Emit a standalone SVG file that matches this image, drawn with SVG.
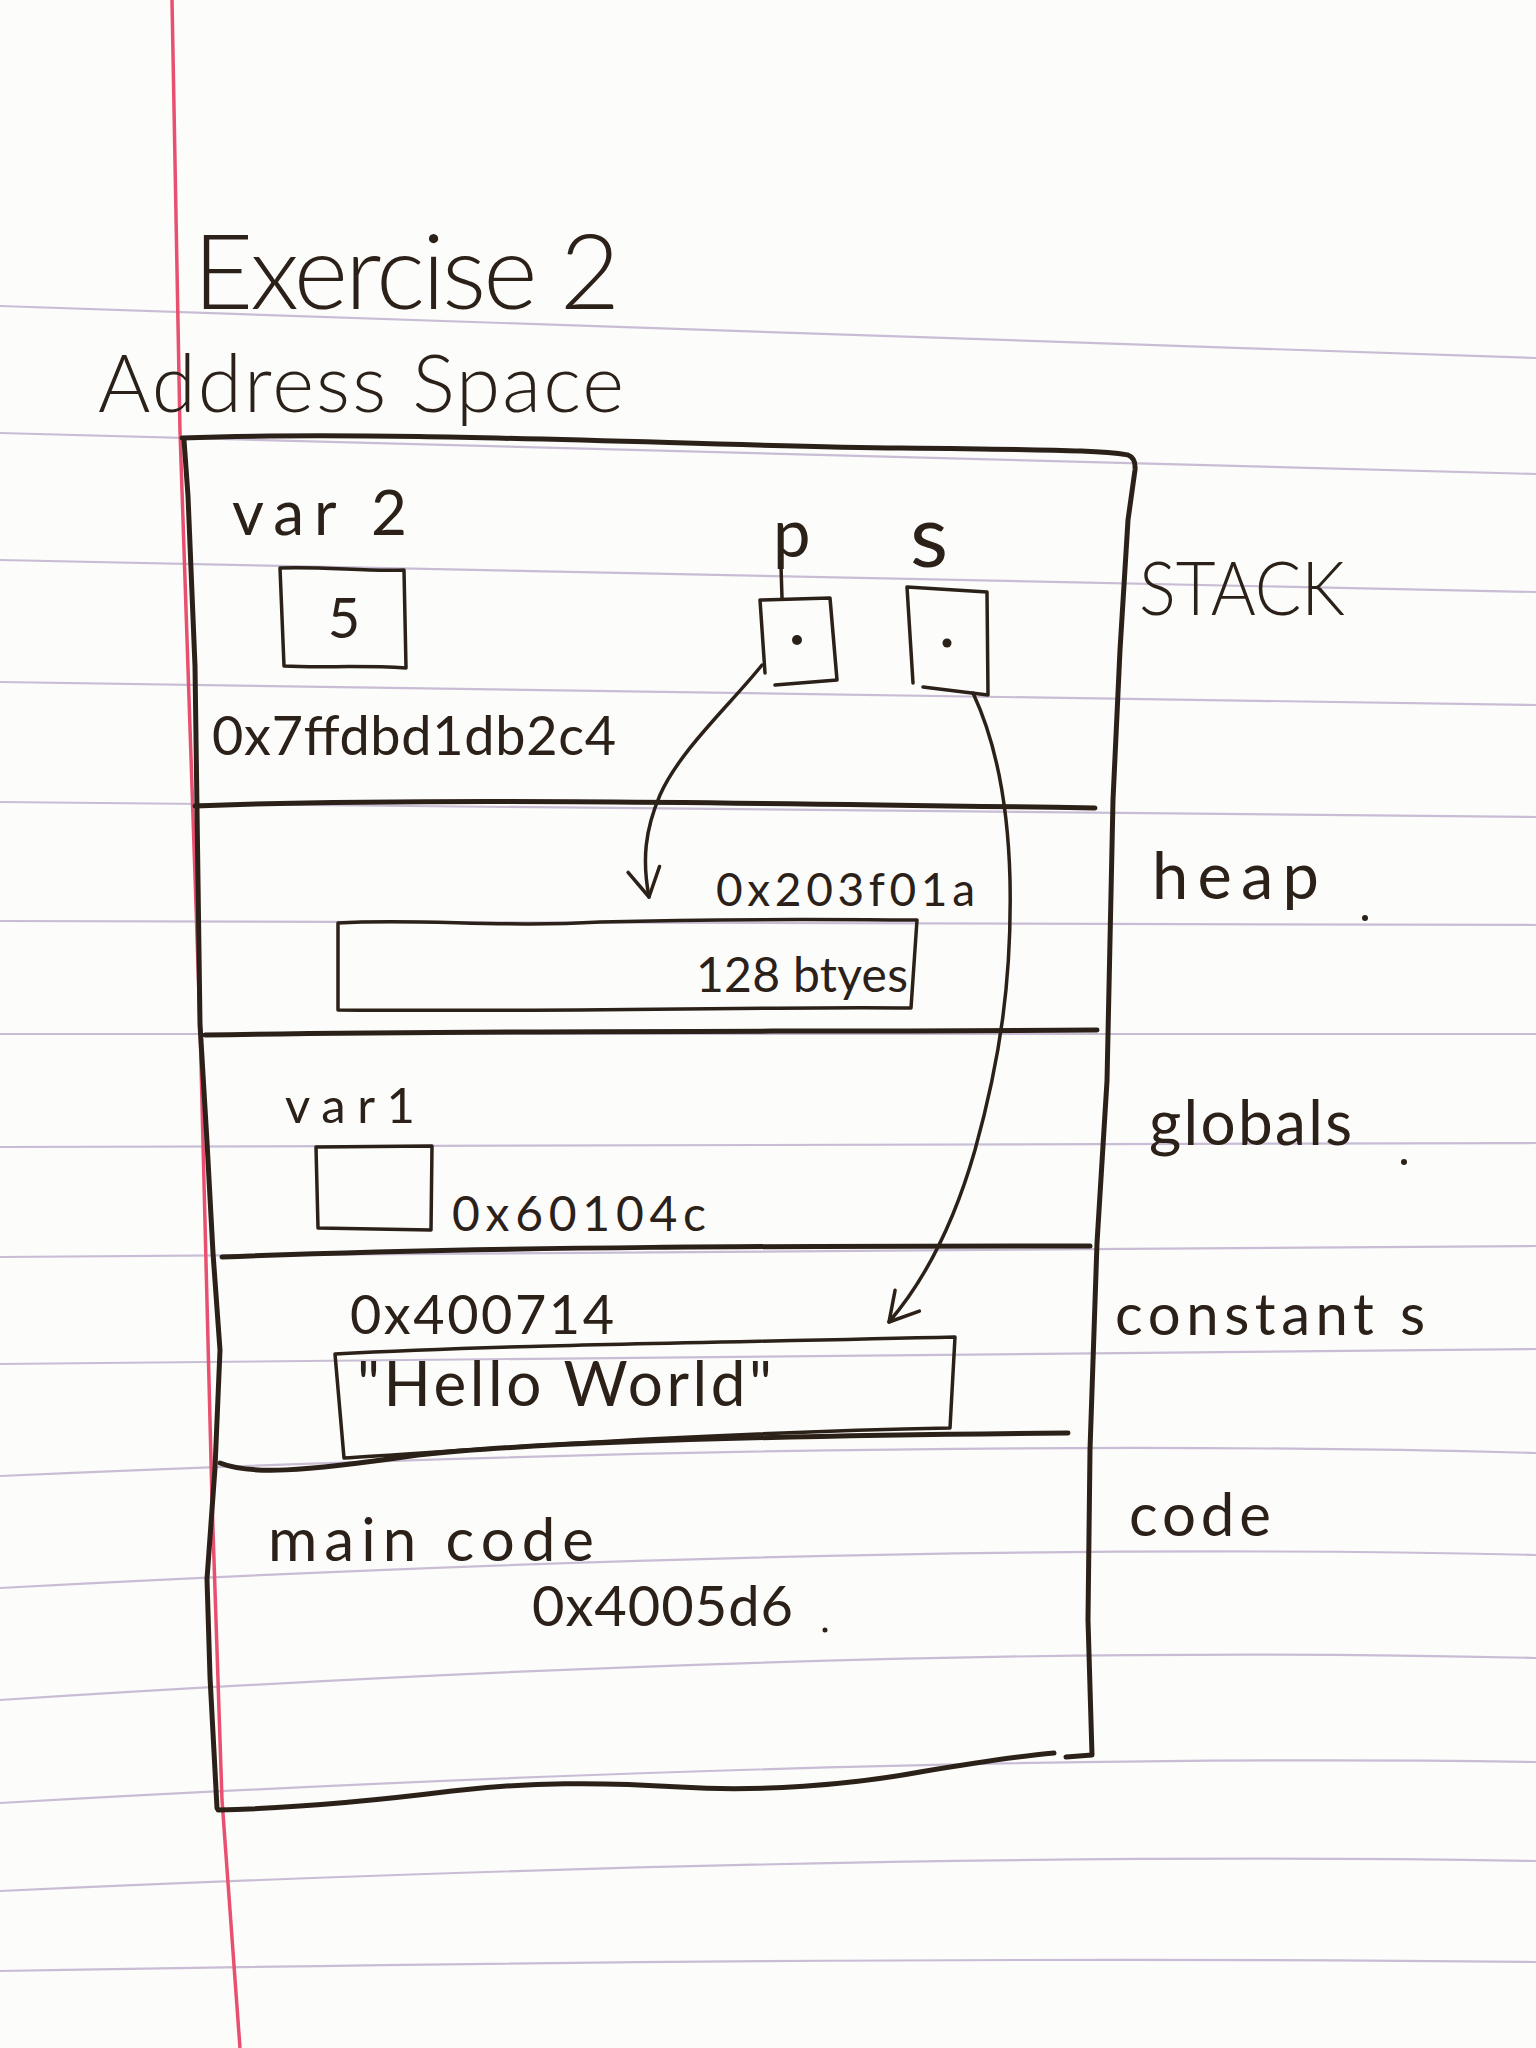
<svg xmlns="http://www.w3.org/2000/svg" width="1536" height="2048" viewBox="0 0 1536 2048">
  <defs>
    <style>
      .ink { fill: none; stroke: #2b2119; stroke-width: 5; stroke-linecap: round; stroke-linejoin: round; }
      .thin { fill: none; stroke: #2b2119; stroke-width: 3.5; stroke-linecap: round; stroke-linejoin: round; }
      .rule { fill: none; stroke: #c8bdd4; stroke-width: 2.2; }
      .margin { fill: none; stroke: #e9506f; stroke-width: 3.5; }
      text { font-family: Lato, "Liberation Sans", "DejaVu Sans", sans-serif; fill: #2b2119; }
      .light { font-weight: 300; }
    </style>
    <marker id="vhead" viewBox="-34 -20 40 40" markerWidth="40" markerHeight="40" refX="0" refY="0" orient="auto" markerUnits="userSpaceOnUse">
      <path d="M-28,-16 L0,0 L-28,16" fill="none" stroke="#2b2119" stroke-width="3.5" stroke-linecap="round" stroke-linejoin="round"/>
    </marker>
  </defs>

  <rect x="0" y="0" width="1536" height="2048" fill="#fcfcfb"/>

  <!-- notebook paper -->
  <g id="paper">
    <path class="rule" d="M0,306 L1536,358"/>
    <path class="rule" d="M0,433 L1536,474"/>
    <path class="rule" d="M0,560 L1536,592"/>
    <path class="rule" d="M0,682 L1536,705"/>
    <path class="rule" d="M0,802 L1536,817"/>
    <path class="rule" d="M0,921 L1536,925"/>
    <path class="rule" d="M0,1034 L1536,1034"/>
    <path class="rule" d="M0,1147 L1536,1143"/>
    <path class="rule" d="M0,1257 L1536,1246"/>
    <path class="rule" d="M0,1364 L1536,1349"/>
    <path class="rule" d="M0,1476 Q900,1436 1536,1453"/>
    <path class="rule" d="M0,1588 Q900,1540 1536,1555"/>
    <path class="rule" d="M0,1700 Q900,1642 1536,1658"/>
    <path class="rule" d="M0,1803 Q900,1752 1536,1762"/>
    <path class="rule" d="M0,1891 Q900,1850 1536,1861"/>
    <path class="rule" d="M0,1971 Q900,1955 1536,1962"/>
    <path class="margin" d="M172,0 L180,431 L200,1024 L212,1500 L222,1800 L240,2048"/>
  </g>

  <!-- titles -->
  <g id="title">
    <text class="light" x="193" y="309" font-size="104" textLength="427">Exercise 2</text>
    <text class="light" x="98" y="412" font-size="80" textLength="526">Address Space</text>
  </g>

  <!-- address space outline -->
  <g id="address-space">
    <path class="ink" d="M182,438 C400,430 700,446 900,448 S1110,452 1128,455 Q1136,458 1135,470 L1128,520 L1120,650 L1113,800 L1107,1081 L1097,1243 L1090,1450 L1088,1620 L1092,1755 L1066,1757"/>
    <path class="ink" d="M184,440 L188,496 L195,666 L200,1024 L207,1142 L213,1253 L220,1350 L215,1468 L207,1579 L210,1677 L217,1808"/>
    <path class="ink" d="M218,1810 C300,1808 380,1800 452,1791 C530,1782 600,1782 680,1787 C760,1792 850,1785 920,1772 C980,1762 1020,1756 1054,1753"/>
    <path class="ink" d="M195,806 C400,798 700,802 1095,808"/>
    <path class="ink" d="M205,1035 C500,1030 800,1032 1097,1030"/>
    <path class="ink" d="M222,1257 C500,1246 800,1246 1090,1246"/>
    <path class="ink" d="M220,1463 C250,1475 300,1472 418,1455 C520,1444 700,1436 1068,1433"/>
  </g>

  <!-- segment labels -->
  <g id="labels">
    <text class="light" x="1139" y="615" font-size="74" textLength="206" lengthAdjust="spacingAndGlyphs">STACK</text>
    <text x="1152" y="899" font-size="65" textLength="167">heap</text>
    <text x="1149" y="1145" font-size="62" textLength="203">globals</text>
    <text x="1115" y="1335" font-size="58" textLength="310">constant s</text>
    <text x="1129" y="1536" font-size="60" textLength="142">code</text>
  </g>

  <!-- stack contents -->
  <g id="var2">
    <text x="232" y="535" font-size="62" textLength="175">var 2</text>
    <path class="thin" d="M280,568 C320,566 370,572 404,570 L406,668 C360,665 320,668 284,666 Z"/>
    <text x="344" y="638" font-size="56" text-anchor="middle">5</text>
    <text x="212" y="755" font-size="54" textLength="404">0x7ffdbd1db2c4</text>
  </g>

  <g id="p">
    <text x="773" y="557" font-size="67">p</text>
    <path class="thin" d="M781,566 L782,598"/>
    <path class="thin" d="M765,673 L760,600 L830,598 L837,680 L775,685"/>
    <circle cx="797" cy="640" r="5" fill="#2b2119"/>
  </g>

  <g id="s">
    <text x="910" y="567" font-size="88">s</text>
    <path class="thin" d="M913,683 L907,587 L987,592 L988,695 L923,687"/>
    <circle cx="947" cy="643" r="4.5" fill="#2b2119"/>
  </g>

  <!-- heap contents -->
  <g id="heap-block">
    <text x="716" y="906" font-size="46" textLength="259">0x203f01a</text>
    <path class="thin" d="M338,923 C420,918 500,928 600,922 C750,918 850,920 917,920 L911,1008 C800,1006 600,1012 338,1010 Z"/>
    <text x="696" y="992" font-size="48" textLength="212">128 btyes</text>
  </g>

  <!-- globals contents -->
  <g id="var1">
    <text x="285" y="1123" font-size="49" textLength="130">var1</text>
    <path class="thin" d="M316,1147 L432,1146 L431,1230 L318,1228 Z"/>
    <text x="452" y="1231" font-size="48" textLength="254">0x60104c</text>
  </g>

  <!-- constants contents -->
  <g id="hello">
    <text x="350" y="1334" font-size="54" textLength="264">0x400714</text>
    <path class="thin" d="M335,1354 C500,1345 700,1343 955,1337 L950,1428 C700,1433 500,1448 344,1458 Z"/>
    <text x="357" y="1406" font-size="62" textLength="415">"Hello World"</text>
  </g>

  <!-- code contents -->
  <g id="main-code">
    <text x="268" y="1561" font-size="60" textLength="326">main code</text>
    <text x="532" y="1626" font-size="56" textLength="261">0x4005d6</text>
  </g>

  <!-- stray marks -->
  <g id="marks" fill="#2b2119">
    <circle cx="1365" cy="918" r="3"/>
    <circle cx="1404" cy="1162" r="3"/>
    <circle cx="825" cy="1630" r="2.5"/>
  </g>

  <!-- connectors -->
  <g id="connectors">
    <path class="thin" d="M762,665 C730,705 680,750 660,795 C645,830 642,860 649,897" marker-end="url(#vhead)"/>
    <path class="thin" d="M973,693 C995,740 1008,800 1010,880 C1012,980 1000,1060 975,1150 C955,1220 925,1280 889,1322" marker-end="url(#vhead)"/>
  </g>
</svg>
